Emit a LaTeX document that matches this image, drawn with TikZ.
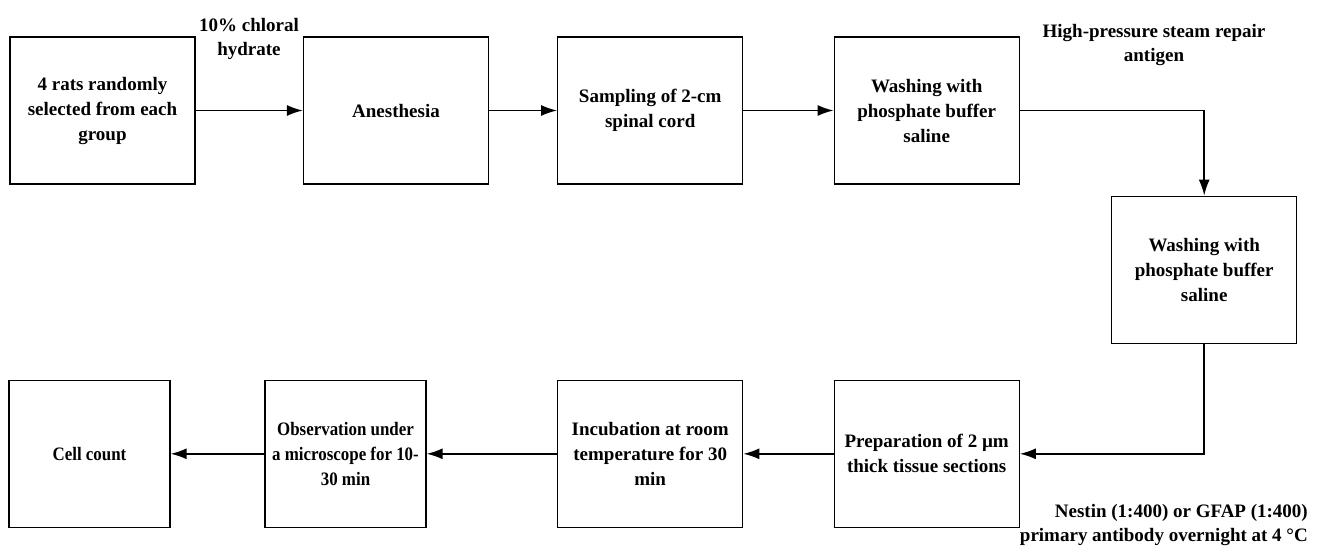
\documentclass[tikz,border=0pt]{standalone}
\usepackage{fontspec}
\setmainfont{Liberation Serif}
\newfontfamily\narrowserif[FakeStretch=0.89]{Liberation Serif}
\usetikzlibrary{arrows.meta,positioning}
\tikzset{>={Latex[length=16pt,width=11pt]}}
\tikzset{
  stepbox/.style={draw, line width=1.2pt, minimum width=185pt, minimum height=147pt,
    inner sep=0pt, align=center, font=\fontsize{19}{25}\selectfont\bfseries},
  narrowbox/.style={stepbox, minimum width=161pt, font=\narrowserif\fontsize{19}{25}\selectfont\bfseries},
  note/.style={align=center, inner sep=0pt, font=\fontsize{19}{24}\selectfont\bfseries}
}

\begin{document}
\begin{tikzpicture}[x=1pt,y=-1pt]
    \useasboundingbox (0,0) rectangle (1324,547);
    % top row
    \node [stepbox] (rats) at (102.5,110.5) {4 rats randomly\\selected from each\\group};
    \node [stepbox] (anes) at (396,110.5) {Anesthesia};
    \node [stepbox] (sampl) at (650.2,110.5) {Sampling of 2-cm\\spinal cord};
    \node [stepbox] (washa) at (926.7,110.5) {Washing with\\phosphate buffer\\saline};
    \node [stepbox] (washb) at (1204.2,269.7) {Washing with\\phosphate buffer\\saline};
    % bottom row
    \node [stepbox] (prep) at (926.7,453.8) {Preparation of 2 µm\\thick tissue sections};
    \node [stepbox] (incub) at (650.2,453.8) {Incubation at room\\temperature for 30\\min};
    \node [narrowbox] (obs) at (345.5,453.8) {Observation under\\a microscope for 10-\\30 min};
    \node [narrowbox] (cells) at (89.5,453.8) {Cell count};
    % notes
    \node [note] (chloral) at (249,39) {10\% chloral\\hydrate};
    \node [note] (steam) at (1154,45) {High-pressure steam repair\\antigen};
    \node [note, align=right, anchor=east] (nestin) at (1308,525) {Nestin (1:400) or GFAP (1:400)\\primary antibody overnight at 4 °C};
    \begin{scope}[line width=1.7pt]
      \draw [->] (rats) -- (anes);
      \draw [->] (anes) -- (sampl);
      \draw [->] (sampl) -- (washa);
      \draw [->] (washa.east) -| (washb.north);
      \draw [->] (washb.south) |- (prep.east);
      \draw [->] (prep) -- (incub);
      \draw [->] (incub) -- (obs);
      \draw [->] (obs) -- (cells);
    \end{scope}
\end{tikzpicture}
\end{document}
